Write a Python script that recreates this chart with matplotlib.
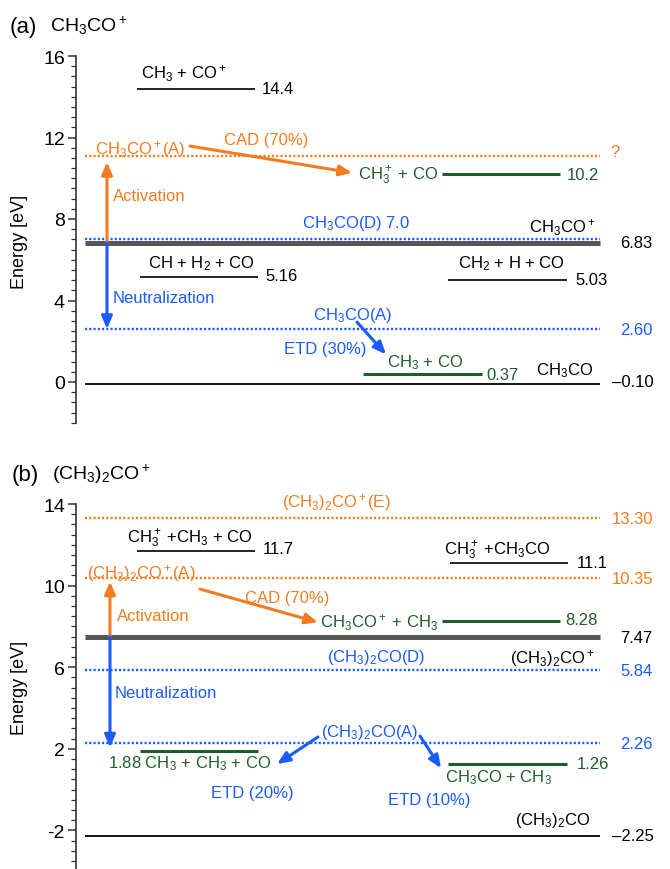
import matplotlib
matplotlib.use('Agg')
import matplotlib.pyplot as plt
from matplotlib.ticker import MultipleLocator

plt.rcParams['font.family'] = ['Liberation Sans', 'DejaVu Sans']
plt.rcParams['mathtext.fontset'] = 'custom'
plt.rcParams['mathtext.rm'] = 'Liberation Sans'
plt.rcParams['mathtext.it'] = 'Liberation Sans:italic'
plt.rcParams['mathtext.bf'] = 'Liberation Sans:bold'
plt.rcParams['axes.unicode_minus'] = False

ORANGE = '#f47b20'
BLUE = '#1a5cff'
GREEN = '#1d5e2a'
GRAY = '#555555'

# ---- (a) CH3CO+ energies [eV]
a_ground_ion = 6.83
a_ground_neutral = -0.10
a_excited_ion = 11.1          # CH3CO+(A)
a_excited_neutral = [7.0, 2.60]   # CH3CO(D), CH3CO(A)
a_products = [14.4, 5.16, 5.03]   # CH3+CO+, CH+H2+CO, CH2+H+CO
a_fragments = [10.2, 0.37]        # CH3+ + CO, CH3 + CO

# ---- (b) (CH3)2CO+ energies [eV]
b_ground_ion = 7.47
b_ground_neutral = -2.25
b_excited_ion = [13.30, 10.35]    # (E), (A)
b_excited_neutral = [5.84, 2.26]  # (D), (A)
b_products = [11.7, 11.1]         # CH3+ +CH3+CO, CH3+ +CH3CO
b_fragments = [8.28, 1.88, 1.26]

LONG = (85, 600)
LEFT = (137, 255)
RIGHT = (448, 567)
GREEN_R = (442, 560)
FS = 12

fig = plt.figure(figsize=(6.7, 8.7), dpi=100)
W, H = 670.0, 870.0


def make_axes(top_px, ymin, ymax, px_per_ev, major_ticks):
    h = (ymax - ymin) * px_per_ev
    ax = fig.add_axes([76 / W, 1 - (top_px + h) / H, 1 - 76 / W, h / H])
    ax.set_xlim(76, 670)
    ax.set_ylim(ymin, ymax)
    for s in ['top', 'right', 'bottom']:
        ax.spines[s].set_visible(False)
    ax.spines['left'].set_linewidth(1.2)
    ax.spines['left'].set_color('#333333')
    ax.set_xticks([])
    ax.set_yticks(major_ticks)
    ax.yaxis.set_minor_locator(MultipleLocator(0.5))
    ax.tick_params(axis='y', which='major', length=6, width=1.1, labelsize=14,
                   color='#333333', pad=2)
    ax.tick_params(axis='y', which='minor', length=3.5, width=0.9, color='#333333')
    return ax


def level(ax, e, span, color='black', lw=1.2, ls='-'):
    ax.plot(span, [e, e], color=color, lw=lw, ls=ls, solid_capstyle='butt',
            clip_on=False)


def dotted(ax, e, color):
    ax.plot(LONG, [e, e], color=color, lw=1.7, ls=(0, (0.9, 0.9)), clip_on=False)


def arrow(ax, start, tip, color):
    ax.annotate('', xy=tip, xytext=start,
                arrowprops=dict(arrowstyle='-|>,head_length=0.75,head_width=0.32',
                                lw=2.2, color=color, shrinkA=0, shrinkB=0),
                annotation_clip=False)


def txt(ax, x, y, s, color='black', ha='left', va='baseline', size=FS):
    ax.text(x, y, s, color=color, ha=ha, va=va, fontsize=size, clip_on=False)


# ================= panel (a) =================
ax = make_axes(57, -2, 16, 20.375, [0, 4, 8, 12, 16])
fig.text(10 / W, 1 - 27 / H, '(a)', fontsize=16, va='center')
fig.text(50 / W, 1 - 26 / H, r'CH$_3$CO$^+$', fontsize=14, va='center')
fig.text(20 / W, 1 - 242 / H, 'Energy [eV]', rotation=90, fontsize=13,
         ha='center', va='center')

# products
level(ax, a_products[0], LEFT)
txt(ax, 184, a_products[0] + 0.52, r'CH$_3$ + CO$^+$', ha='center')
txt(ax, 262, a_products[0], f'{a_products[0]:.1f}', va='center')
level(ax, a_products[1], (140, 258))
txt(ax, 202, a_products[1] + 0.48, r'CH + H$_2$ + CO', ha='center')
txt(ax, 265, a_products[1] + 0.05, f'{a_products[1]:.2f}', va='center')
level(ax, a_products[2], RIGHT)
txt(ax, 512, a_products[2] + 0.6, r'CH$_2$ + H + CO', ha='center')
txt(ax, 575, a_products[2], f'{a_products[2]:.2f}', va='center')

# excited ion
dotted(ax, a_excited_ion, ORANGE)
txt(ax, 95, a_excited_ion + 0.1, r'CH$_3$CO$^+$(A)', color=ORANGE)
txt(ax, 610, a_excited_ion + 0.2, '?', color=ORANGE, va='center')
arrow(ax, (190, 11.58), (352, 10.27), ORANGE)
txt(ax, 224, 11.68, 'CAD (70%)', color=ORANGE)

# fragments
level(ax, a_fragments[0], GREEN_R, color=GREEN, lw=2.2)
txt(ax, 438, a_fragments[0] - 0.24, r'CH$_3^+$ + CO', color=GREEN, ha='right')
txt(ax, 567, a_fragments[0], f'{a_fragments[0]:.1f}', color=GREEN, va='center')
level(ax, a_fragments[1], (363, 482), color=GREEN, lw=2.2)
txt(ax, 425, a_fragments[1] + 0.42, r'CH$_3$ + CO', color=GREEN, ha='center')
txt(ax, 486, a_fragments[1], f'{a_fragments[1]:.2f}', color=GREEN, va='center')

# excited neutrals
dotted(ax, a_excited_neutral[0], BLUE)
txt(ax, 410, 7.61, r'CH$_3$CO(D) ' + f'{a_excited_neutral[0]:.1f}', color=BLUE,
    ha='right')
dotted(ax, a_excited_neutral[1], BLUE)
txt(ax, 620, a_excited_neutral[1], f'{a_excited_neutral[1]:.2f}', color=BLUE,
    va='center')
txt(ax, 313, 3.09, r'CH$_3$CO(A)', color=BLUE)
arrow(ax, (357, 2.94), (386, 1.35), BLUE)
txt(ax, 366, 1.4, 'ETD (30%)', color=BLUE, ha='right')

# ground states
level(ax, a_ground_ion, LONG, color=GRAY, lw=3.6)
txt(ax, 595, 7.36, r'CH$_3$CO$^+$', ha='right')
txt(ax, 620, a_ground_ion, f'{a_ground_ion:.2f}', va='center')
level(ax, a_ground_neutral, LONG, lw=1.3)
txt(ax, 593, 0.39, r'CH$_3$CO', ha='right')
txt(ax, 612, a_ground_neutral + 0.1, f'\u2013{abs(a_ground_neutral):.2f}',
    va='center')

# activation / neutralization
arrow(ax, (107, a_ground_ion), (107, a_excited_ion - 0.3), ORANGE)
txt(ax, 113, 9.13, 'Activation', color=ORANGE, va='center')
arrow(ax, (107, a_ground_ion), (107, a_excited_neutral[1]), BLUE)
txt(ax, 113, 4.17, 'Neutralization', color=BLUE, va='center')

# ================= panel (b) =================
ax = make_axes(505, -4, 14, 20.4, [-2, 2, 6, 10, 14])
fig.text(12 / W, 1 - 475 / H, '(b)', fontsize=16, va='center')
fig.text(52 / W, 1 - 474 / H, r'(CH$_3$)$_2$CO$^+$', fontsize=14, va='center')
fig.text(20 / W, 1 - 688 / H, 'Energy [eV]', rotation=90, fontsize=13,
         ha='center', va='center')

# excited ions
dotted(ax, b_excited_ion[0], ORANGE)
txt(ax, 282, 13.9, r'(CH$_3$)$_2$CO$^+$(E)', color=ORANGE)
txt(ax, 612, b_excited_ion[0], f'{b_excited_ion[0]:.2f}', color=ORANGE, va='center')
dotted(ax, b_excited_ion[1], ORANGE)
txt(ax, 87, 10.42, r'(CH$_3$)$_2$CO$^+$(A)', color=ORANGE)
txt(ax, 612, b_excited_ion[1], f'{b_excited_ion[1]:.2f}', color=ORANGE, va='center')
arrow(ax, (200, 9.83), (318, 8.2), ORANGE)
txt(ax, 245, 9.2, 'CAD (70%)', color=ORANGE)

# products
level(ax, b_products[0], LEFT)
txt(ax, 190, 12.14, r'CH$_3^+$ +CH$_3$ + CO', ha='center')
txt(ax, 263, b_products[0] + 0.1, f'{b_products[0]:.1f}', va='center')
level(ax, b_products[1], (450, 568))
txt(ax, 497, 11.55, r'CH$_3^+$ +CH$_3$CO', ha='center')
txt(ax, 577, b_products[1] + 0.05, f'{b_products[1]:.1f}', va='center')

# fragments
level(ax, b_fragments[0], GREEN_R, color=GREEN, lw=2.2)
txt(ax, 438, 7.97, r'CH$_3$CO$^+$ + CH$_3$', color=GREEN, ha='right')
txt(ax, 565, b_fragments[0] + 0.05, f'{b_fragments[0]:.2f}', color=GREEN, va='center')
level(ax, b_fragments[1], (140, 258), color=GREEN, lw=2.2)
txt(ax, 108, 1.11, f'{b_fragments[1]:.2f} ' + r'CH$_3$ + CH$_3$ + CO', color=GREEN)
level(ax, b_fragments[2], RIGHT, color=GREEN, lw=2.2)
txt(ax, 445, 0.42, r'CH$_3$CO + CH$_3$', color=GREEN)
txt(ax, 577, b_fragments[2], f'{b_fragments[2]:.2f}', color=GREEN, va='center')

# ground states
level(ax, b_ground_ion, LONG, color=GRAY, lw=3.6)
txt(ax, 620, b_ground_ion, f'{b_ground_ion:.2f}', va='center')
txt(ax, 595, 6.25, r'(CH$_3$)$_2$CO$^+$', ha='right')
level(ax, b_ground_neutral, LONG, lw=1.3)
txt(ax, 590, -1.69, r'(CH$_3$)$_2$CO', ha='right')
txt(ax, 612, b_ground_neutral, f'\u2013{abs(b_ground_neutral):.2f}', va='center')

# excited neutrals
dotted(ax, b_excited_neutral[0], BLUE)
txt(ax, 425, 6.3, r'(CH$_3$)$_2$CO(D)', color=BLUE, ha='right')
txt(ax, 620, b_excited_neutral[0], f'{b_excited_neutral[0]:.2f}', color=BLUE,
    va='center')
dotted(ax, b_excited_neutral[1], BLUE)
txt(ax, 418, 2.63, r'(CH$_3$)$_2$CO(A)', color=BLUE, ha='right')
txt(ax, 620, b_excited_neutral[1], f'{b_excited_neutral[1]:.2f}', color=BLUE,
    va='center')
arrow(ax, (318, 2.58), (277, 1.25), BLUE)
txt(ax, 211, -0.36, 'ETD (20%)', color=BLUE)
arrow(ax, (420, 2.63), (441, 1.05), BLUE)
txt(ax, 388, -0.71, 'ETD (10%)', color=BLUE)

# activation / neutralization
arrow(ax, (110, b_ground_ion), (110, b_excited_ion[1] - 0.15), ORANGE)
txt(ax, 117, 8.51, 'Activation', color=ORANGE, va='center')
arrow(ax, (110, b_ground_ion), (110, b_excited_neutral[1] - 0.2), BLUE)
txt(ax, 115, 4.78, 'Neutralization', color=BLUE, va='center')

fig.savefig('out.png', dpi=100)
